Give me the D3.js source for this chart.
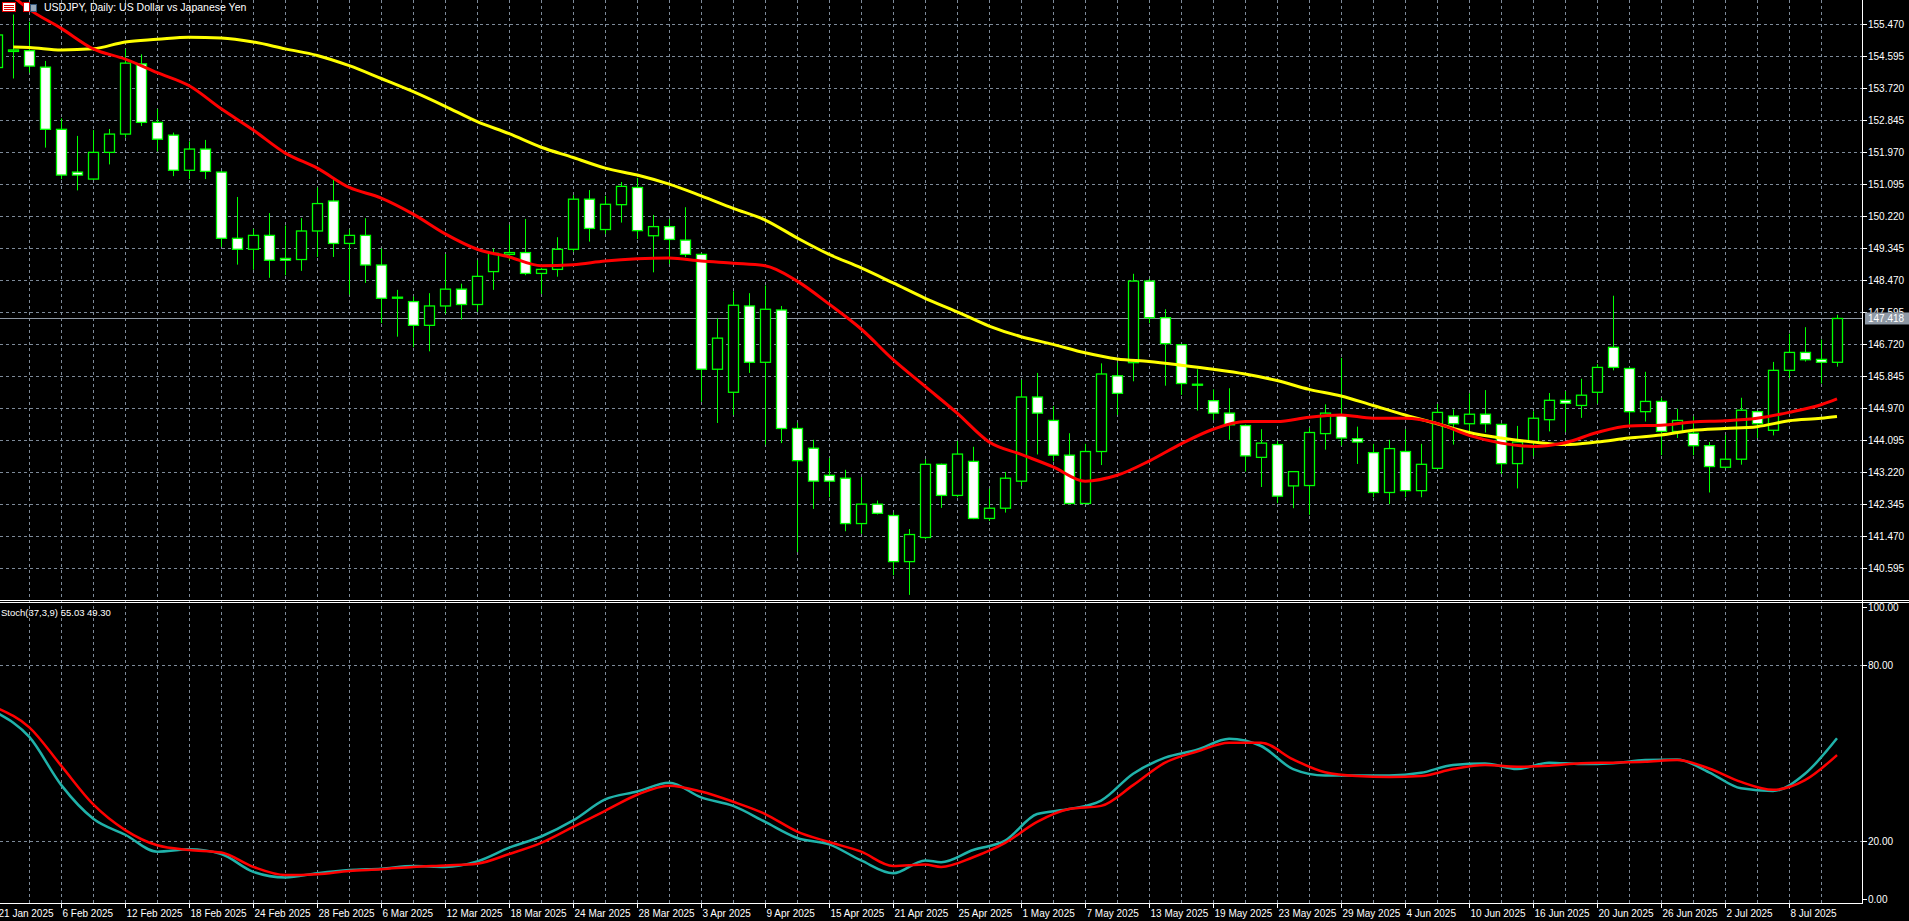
<!DOCTYPE html>
<html>
<head>
<meta charset="utf-8">
<script src="https://cdn.jsdelivr.net/npm/d3@7"></script>
<style>
  html, body { margin: 0; padding: 0; background: #000; overflow: hidden; }
  text { font-family: "Liberation Sans", Arial, sans-serif; }
</style>
</head>
<body>
<svg id="chart" width="1909" height="921"></svg>
<script>
// USDJPY daily candles, 31 Jan 2025 .. 11 Jul 2025 (one per weekday)
var open  = [154.28,154.72,154.74,154.29,152.59,151.42,151.23,151.96,152.46,154.38,152.78,152.43,151.47,152.05,151.42,149.61,149.31,149.69,149.06,149.03,149.81,150.63,149.47,149.69,148.88,148.00,147.88,147.23,147.76,148.22,147.80,148.70,149.17,149.22,148.65,148.76,149.31,150.68,149.85,150.53,151.00,149.68,149.93,149.56,149.17,146.03,145.40,147.76,146.22,147.65,144.41,143.87,143.13,143.05,141.81,142.34,142.03,140.77,141.43,143.43,142.58,143.51,141.95,142.23,142.97,145.27,144.63,143.68,142.36,143.78,145.85,146.21,148.44,147.44,146.70,145.62,145.17,144.83,144.49,143.62,143.97,142.84,142.85,144.27,144.78,144.13,143.75,142.66,143.78,142.71,143.32,144.75,144.54,144.80,144.52,143.45,144.04,144.65,145.18,145.04,145.40,146.63,146.05,144.87,145.15,144.33,144.28,143.94,143.35,143.57,144.87,144.36,146.00,146.49,146.30,146.22];
var high  = [155.40,155.73,155.53,154.46,152.89,152.41,152.57,152.60,154.79,154.64,153.15,152.50,152.26,152.30,151.45,150.74,149.87,150.30,149.96,150.16,151.00,151.21,149.85,150.16,149.33,148.20,148.02,148.11,149.18,148.37,149.01,149.33,149.98,150.14,148.80,149.64,150.79,150.93,150.77,151.15,151.26,150.25,150.14,150.46,149.20,147.42,148.16,148.11,148.32,147.76,144.57,144.10,143.60,143.28,143.08,142.44,142.11,141.66,143.57,143.45,144.07,143.91,142.76,143.22,145.74,145.93,145.02,144.28,143.99,146.19,146.21,148.64,148.50,147.67,146.72,146.03,145.48,145.51,144.52,144.39,144.07,143.07,144.43,145.07,146.34,144.46,143.99,144.10,144.39,143.99,145.08,144.93,145.37,145.46,144.55,144.48,144.88,145.38,145.43,145.77,146.17,148.04,146.08,145.96,145.25,144.95,144.74,144.04,144.23,145.25,144.90,146.23,147.00,147.18,146.84,147.52];
var low   = [154.10,153.98,154.14,152.09,151.23,150.92,151.21,151.63,152.36,152.68,151.99,151.31,151.23,151.23,149.38,148.89,148.75,148.53,148.60,148.72,149.10,149.10,148.07,148.39,147.29,146.92,146.63,146.52,147.55,147.39,147.60,148.20,149.01,148.60,148.09,148.56,149.24,149.52,149.73,150.04,149.59,148.68,148.91,149.10,145.14,144.56,144.78,145.93,143.97,144.01,141.03,142.21,142.53,141.60,141.53,142.06,140.40,139.86,141.38,142.24,142.53,141.93,141.88,142.11,142.84,143.70,143.51,142.34,142.34,143.41,144.78,145.70,147.29,145.58,145.33,144.90,144.64,144.10,143.23,142.81,142.37,142.23,142.05,143.83,143.94,143.44,142.53,142.34,142.53,142.53,143.30,143.97,144.30,144.30,143.17,142.77,143.65,144.33,144.31,144.70,145.09,146.00,144.51,144.60,143.68,144.15,143.68,142.66,143.32,143.42,144.15,144.22,145.79,146.24,145.64,146.10];
var close = [155.17,154.76,154.32,152.59,151.34,151.34,151.96,152.46,154.40,152.78,152.32,151.47,152.05,151.44,149.61,149.31,149.69,149.01,149.01,149.81,150.56,149.47,149.69,148.88,147.97,147.98,147.23,147.76,148.22,147.80,148.57,149.20,149.22,148.65,148.76,149.31,150.68,149.88,150.54,151.03,149.82,149.93,149.58,149.17,146.03,146.88,147.78,146.22,147.67,144.41,143.53,142.97,142.97,141.81,142.34,142.09,140.77,141.51,143.43,142.58,143.71,141.95,142.23,143.05,145.27,144.83,143.68,142.36,143.78,145.90,145.37,148.44,147.44,146.73,145.64,145.60,144.83,144.51,143.66,144.01,142.56,143.23,144.30,144.83,144.15,144.04,142.66,143.86,142.71,143.43,144.85,144.54,144.80,144.54,143.45,144.04,144.69,145.18,145.10,145.32,146.08,146.08,144.87,145.15,144.33,144.63,143.94,143.37,143.57,144.91,144.54,146.00,146.49,146.29,146.22,147.418];

// moving averages read at these bar numbers
var maBars = [1,2,4,6,8,10,12,14,16,18,20,22,24,26,28,30,32,34,36,38,40,42,44,46,48,50,52,54,56,58,60,62,64,66,68,70,72,74,76,78,80,82,84,86,88,90,92,94,96,98,100,102,104,106,108,110,112,114,115];
var maFast = [156.21,155.87,155.35,154.79,154.51,154.14,153.78,153.15,152.57,151.94,151.53,151.00,150.71,150.27,149.73,149.31,149.10,148.86,148.89,148.99,149.05,149.07,148.99,148.93,148.86,148.44,147.81,147.13,146.29,145.56,144.83,144.04,143.70,143.36,142.97,143.13,143.52,143.99,144.39,144.60,144.60,144.72,144.78,144.69,144.69,144.55,144.22,144.01,143.92,144.02,144.30,144.48,144.50,144.59,144.62,144.69,144.85,145.06,145.22];
var maSlow = [154.84,154.83,154.76,154.79,154.98,155.05,155.11,155.09,154.98,154.79,154.61,154.33,153.98,153.62,153.22,152.80,152.47,152.10,151.82,151.53,151.34,151.09,150.77,150.43,150.11,149.62,149.17,148.80,148.39,147.97,147.60,147.21,146.92,146.71,146.48,146.31,146.24,146.14,146.03,145.90,145.72,145.48,145.30,145.04,144.78,144.54,144.30,144.15,144.04,143.97,144.04,144.15,144.23,144.36,144.41,144.46,144.62,144.69,144.74];

// stochastic (37,3,9)
var stochBars = [0,2,4,6,8,10,12,14,16,18,20,22,24,26,28,30,32,34,36,38,40,42,44,46,48,50,52,54,56,58,59,61,63,65,67,69,71,73,75,77,79,81,83,85,87,89,91,93,95,97,99,101,103,105,107,109,111,113,115];
var stochMain = [63.7,55.5,39.0,27.5,22.0,16.2,17.0,15.4,9.3,7.4,8.8,9.9,10.4,11.3,11.0,12.9,17.6,21.4,26.9,34.1,36.8,39.8,34.8,31.9,26.4,20.9,18.7,13.2,8.8,13.2,12.6,16.8,20.0,29.1,30.8,33.7,42.9,48.4,51.1,54.9,52.4,44.5,42.3,42.3,42.3,43.2,45.9,46.4,44.5,46.7,46.2,46.5,47.6,47.8,43.4,37.9,37.0,42.9,55.03];
var stochSignal = [65.4,58.8,45.6,32.4,23.6,18.4,16.8,15.9,11.0,8.2,8.5,9.6,10.2,11.0,11.5,12.1,15.4,19.2,24.7,30.2,35.7,38.8,36.8,33.3,29.1,23.1,19.5,16.2,11.3,11.8,11.0,14.3,19.2,26.4,30.8,31.9,39.0,46.7,50.5,53.5,53.5,47.8,43.4,42.1,41.8,42.1,44.5,45.9,45.3,45.6,46.5,46.7,47.0,47.6,44.7,40.1,37.4,40.7,49.30];

var dateLabels = ["21 Jan 2025","6 Feb 2025","12 Feb 2025","18 Feb 2025","24 Feb 2025","28 Feb 2025","6 Mar 2025","12 Mar 2025","18 Mar 2025","24 Mar 2025","28 Mar 2025","3 Apr 2025","9 Apr 2025","15 Apr 2025","21 Apr 2025","25 Apr 2025","1 May 2025","7 May 2025","13 May 2025","19 May 2025","23 May 2025","29 May 2025","4 Jun 2025","10 Jun 2025","16 Jun 2025","20 Jun 2025","26 Jun 2025","2 Jul 2025","8 Jul 2025"];
var priceTicks = [155.470,154.595,153.720,152.845,151.970,151.095,150.220,149.345,148.470,147.595,146.720,145.845,144.970,144.095,143.220,142.345,141.470,140.595];
var stochTicks = [100,80,20,0];
var lastPrice = 147.418;

var W = 1862, mainTop = 0, mainBottom = 600, subTop = 603, subBottom = 903;
var gridColor = "#7d8a99";

var svg = d3.select("#chart");
svg.append("rect").attr("width", 1909).attr("height", 921).attr("fill", "#000");

var x = d3.scaleLinear().domain([0, open.length - 1]).range([-2.7, 1837]);
var y = d3.scaleLinear().domain([140.595, 155.470]).range([568, 24]);
var ys = d3.scaleLinear().domain([0, 100]).range([899, 607]);

svg.append("clipPath").attr("id", "cm").append("rect").attr("x", 0).attr("y", mainTop).attr("width", W).attr("height", mainBottom - mainTop);
svg.append("clipPath").attr("id", "cs").append("rect").attr("x", 0).attr("y", subTop).attr("width", W).attr("height", subBottom - subTop);

// vertical grid every 2 bars
var vgrid = d3.range(2, open.length, 2);
svg.append("g").selectAll("line").data(vgrid).enter().append("line")
  .attr("x1", function(d) { return Math.round(x(d)) + 0.5; })
  .attr("x2", function(d) { return Math.round(x(d)) + 0.5; })
  .attr("y1", 0).attr("y2", subBottom)
  .attr("stroke", gridColor).attr("stroke-dasharray", "3,3");

svg.append("g").selectAll("line").data(priceTicks).enter().append("line")
  .attr("x1", 0).attr("x2", W)
  .attr("y1", function(d) { return Math.round(y(d)) + 0.5; })
  .attr("y2", function(d) { return Math.round(y(d)) + 0.5; })
  .attr("stroke", gridColor).attr("stroke-dasharray", "3,3");

svg.append("g").selectAll("line").data([80, 20]).enter().append("line")
  .attr("x1", 0).attr("x2", W)
  .attr("y1", function(d) { return Math.round(ys(d)) + 0.5; })
  .attr("y2", function(d) { return Math.round(ys(d)) + 0.5; })
  .attr("stroke", gridColor).attr("stroke-dasharray", "3,3");

// current price line
svg.append("line").attr("x1", 0).attr("x2", W)
  .attr("y1", Math.round(y(lastPrice)) + 0.5).attr("y2", Math.round(y(lastPrice)) + 0.5)
  .attr("stroke", "#8e98a4");

// candles
var main = svg.append("g").attr("clip-path", "url(#cm)");
var idx = d3.range(open.length);
main.selectAll("line.wick").data(idx).enter().append("line")
  .attr("class", "wick")
  .attr("x1", function(i) { return Math.round(x(i)) + 0.5; })
  .attr("x2", function(i) { return Math.round(x(i)) + 0.5; })
  .attr("y1", function(i) { return y(high[i]); })
  .attr("y2", function(i) { return y(low[i]); })
  .attr("stroke", "#00ff00");
main.selectAll("rect.body").data(idx).enter().append("rect")
  .attr("class", "body")
  .attr("x", function(i) { return Math.round(x(i)) - 4.5; })
  .attr("width", 10)
  .attr("y", function(i) { return y(Math.max(open[i], close[i])); })
  .attr("height", function(i) { return Math.max(1, Math.abs(y(open[i]) - y(close[i]))); })
  .attr("fill", function(i) { return close[i] < open[i] ? "#fff" : "#000"; })
  .attr("stroke", "#00ff00").attr("stroke-width", 1.3);

var maLine = d3.line().x(function(d) { return x(d[0]); }).y(function(d) { return y(d[1]); }).curve(d3.curveMonotoneX);
main.append("path").datum(d3.zip(maBars, maSlow)).attr("d", maLine)
  .attr("fill", "none").attr("stroke", "#ffff00").attr("stroke-width", 3);
main.append("path").datum(d3.zip(maBars, maFast)).attr("d", maLine)
  .attr("fill", "none").attr("stroke", "#ff0000").attr("stroke-width", 3);

// stochastic
var sub = svg.append("g").attr("clip-path", "url(#cs)");
var sLine = d3.line().x(function(d) { return x(d[0]); }).y(function(d) { return ys(d[1]); }).curve(d3.curveMonotoneX);
sub.append("path").datum(d3.zip(stochBars, stochMain)).attr("d", sLine)
  .attr("fill", "none").attr("stroke", "#20b2aa").attr("stroke-width", 2.5);
sub.append("path").datum(d3.zip(stochBars, stochSignal)).attr("d", sLine)
  .attr("fill", "none").attr("stroke", "#ff0000").attr("stroke-width", 2.5);

// panel borders
svg.append("line").attr("x1", 0).attr("x2", 1909).attr("y1", 600.5).attr("y2", 600.5).attr("stroke", "#fff");
svg.append("line").attr("x1", 0).attr("x2", 1909).attr("y1", 602.5).attr("y2", 602.5).attr("stroke", "#fff");
svg.append("line").attr("x1", W + 0.5).attr("x2", W + 0.5).attr("y1", 0).attr("y2", subBottom).attr("stroke", "#fff");
svg.append("line").attr("x1", 0).attr("x2", W + 1).attr("y1", subBottom + 0.5).attr("y2", subBottom + 0.5).attr("stroke", "#fff");

// price axis
var pa = svg.append("g");
pa.selectAll("line").data(priceTicks).enter().append("line")
  .attr("x1", W).attr("x2", W + 5)
  .attr("y1", function(d) { return Math.round(y(d)) + 0.5; })
  .attr("y2", function(d) { return Math.round(y(d)) + 0.5; })
  .attr("stroke", "#fff");
pa.selectAll("text").data(priceTicks).enter().append("text")
  .attr("x", W + 6).attr("y", function(d) { return y(d) + 4; })
  .attr("fill", "#fff").attr("font-size", "10px")
  .text(function(d) { return d.toFixed(3); });

pa.append("rect").attr("x", W + 3).attr("y", y(lastPrice) - 6).attr("width", 44).attr("height", 12).attr("fill", "#8e98a4");
pa.append("text").attr("x", W + 6).attr("y", y(lastPrice) + 4).attr("fill", "#fff").attr("font-size", "10px").text(lastPrice.toFixed(3));

var sa = svg.append("g");
sa.selectAll("line").data(stochTicks).enter().append("line")
  .attr("x1", W).attr("x2", W + 5)
  .attr("y1", function(d) { return Math.round(ys(d)) + 0.5; })
  .attr("y2", function(d) { return Math.round(ys(d)) + 0.5; })
  .attr("stroke", "#fff");
sa.selectAll("text").data(stochTicks).enter().append("text")
  .attr("x", W + 6).attr("y", function(d) { return ys(d) + 4; })
  .attr("fill", "#fff").attr("font-size", "10px")
  .text(function(d) { return d.toFixed(2); });

// time axis, a label every 4 bars
var ta = svg.append("g");
ta.selectAll("g").data(dateLabels).enter().append("g")
  .attr("transform", function(d, k) { return "translate(" + (Math.round(x(k === 0 ? 0 : 4 * k)) + 0.5) + ",0)"; })
  .each(function(d) {
    var g = d3.select(this);
    g.append("line").attr("y1", subBottom).attr("y2", subBottom + 5).attr("stroke", "#fff");
    g.append("text").attr("x", 1).attr("y", 917).attr("fill", "#fff").attr("font-size", "10px").text(d);
  });

// title and icons
var ic = svg.append("g");
ic.append("rect").attr("x", 2.5).attr("y", 2.5).attr("width", 13).attr("height", 9).attr("fill", "#fff").attr("stroke", "#d00");
ic.selectAll("line").data([5, 7, 9]).enter().append("line")
  .attr("x1", 4).attr("x2", 14).attr("y1", function(d) { return d + 0.5; }).attr("y2", function(d) { return d + 0.5; }).attr("stroke", "#d00");
ic.append("rect").attr("x", 23.5).attr("y", 2.5).attr("width", 6).attr("height", 9).attr("fill", "#fff").attr("stroke", "#d00");
ic.append("rect").attr("x", 30.5).attr("y", 4.5).attr("width", 6).attr("height", 7).attr("fill", "#9ab").attr("stroke", "#357");
svg.append("text").attr("x", 44).attr("y", 11).attr("fill", "#fff").attr("font-size", "10.5px")
  .text("USDJPY, Daily:  US Dollar vs Japanese Yen");
svg.append("text").attr("x", 1).attr("y", 616).attr("fill", "#fff").attr("font-size", "9.5px")
  .text("Stoch(37,3,9) " + stochMain[stochMain.length - 1].toFixed(2) + " " + stochSignal[stochSignal.length - 1].toFixed(2));
</script>
</body>
</html>
